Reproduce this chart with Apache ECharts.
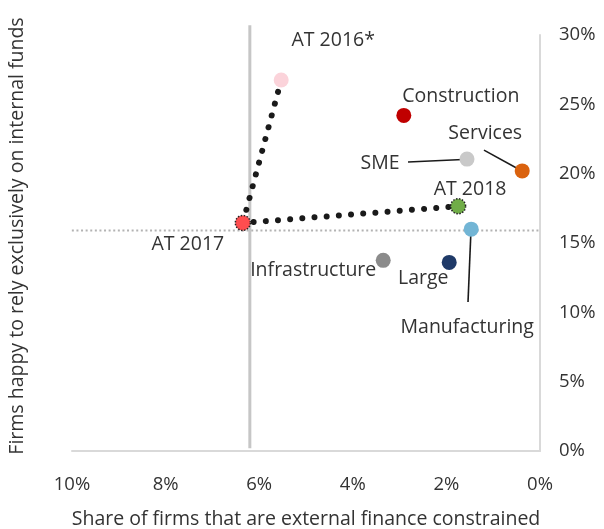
<!DOCTYPE html>
<html>
<head>
<meta charset="utf-8">
<script src="https://cdn.jsdelivr.net/npm/echarts@6/dist/echarts.min.js"></script>
<style>
html,body{margin:0;padding:0;background:#fff;}
#chart{width:604px;height:529px;}
</style>
</head>
<body>
<div id="chart"></div>
<script>
// ---- data ----
const pointNames = ['AT 2016*', 'Construction', 'Services', 'SME', 'AT 2018', 'Manufacturing', 'Large', 'Infrastructure', 'AT 2017'];
const constrained = [5.53, 2.91, 0.38, 1.56, 1.75, 1.47, 1.94, 3.35, 6.35];   // x, %
const internalOnly = [26.75, 24.2, 20.2, 21.05, 17.65, 16.0, 13.6, 13.75, 16.45]; // y, %
const trendNames = ['AT 2016*', 'AT 2017', 'AT 2018'];
const avgConstrained = 6.2;
const avgInternal = 15.9;
const xTicks = [0, 2, 4, 6, 8, 10];
const yTicks = [0, 5, 10, 15, 20, 25, 30];

// ---- styles / layout ----
const pointColors = {
  'AT 2016*': '#fbd3da', 'Construction': '#c00000', 'Services': '#da620e', 'SME': '#c9c9c9',
  'AT 2018': '#70ad47', 'Manufacturing': '#72b5d5', 'Large': '#1f3a68', 'Infrastructure': '#8b8b8b', 'AT 2017': '#ff4d4f'
};
const dottedBorder = {'AT 2018': true, 'AT 2017': true};
const labelOffsets = {
  'AT 2016*': [52, -40], 'Construction': [57, -19], 'Services': [-37, -37], 'SME': [-87, 4],
  'AT 2018': [12, -17], 'Manufacturing': [-4, 98], 'Large': [-26, 16], 'Infrastructure': [-70, 10], 'AT 2017': [-55, 22]
};
// leader lines (label end -> point), in axis units
const leaders = [
  [[2.82, 20.84], [1.645, 21.02]],
  [[1.197, 21.70], [0.385, 20.19]],
  [[1.474, 16.0], [1.538, 10.74]]
];

const FONT = 'Open Sans';
const TXT = '#333333';
const LBL = 19.5;
const TICK = 18.5;

const idx = n => pointNames.indexOf(n);
const scatterData = pointNames.map((n, i) => ({
  name: n,
  value: [constrained[i], internalOnly[i]],
  itemStyle: {
    color: pointColors[n], opacity: 1,
    borderColor: dottedBorder[n] ? '#222' : pointColors[n],
    borderWidth: dottedBorder[n] ? 1.5 : 0,
    borderType: dottedBorder[n] ? [1.5, 1.5] : 'solid'
  },
  label: {
    show: true, formatter: n, position: 'inside', offset: labelOffsets[n],
    align: 'center', verticalAlign: 'middle',
    color: TXT, fontFamily: FONT, fontSize: LBL
  }
}));

const trendData = trendNames.map(n => [constrained[idx(n)], internalOnly[idx(n)]]);

const series = [
  {
    type: 'line', data: [[avgConstrained, 0.2], [avgConstrained, 30.7]], clip: false,
    symbol: 'none', silent: true, z: 1,
    lineStyle: {color: '#c6c6c6', width: 3}
  },
  {
    type: 'line', data: [[10.2, avgInternal], [0.02, avgInternal]], clip: false,
    symbol: 'none', silent: true, z: 1,
    lineStyle: {color: '#b3b3b3', width: 2, type: [2, 2.6]}
  },
  {
    type: 'line', data: trendData, symbol: 'none', z: 2, silent: true,
    lineStyle: {color: '#1a1a1a', width: 6, type: [0.01, 12.2], cap: 'round'}
  }
];
leaders.forEach(l => series.push({
  type: 'line', data: l, symbol: 'none', z: 3, silent: true,
  lineStyle: {color: '#1a1a1a', width: 1.6}
}));
series.push({
  type: 'scatter', data: scatterData, symbolSize: 15, z: 5
});

const chart = echarts.init(document.getElementById('chart'), null, {renderer: 'canvas'});
chart.setOption({
  animation: false,
  backgroundColor: '#fff',
  grid: {left: 72, right: 64, top: 35, bottom: 78, containLabel: false, outerBoundsMode: 'none'},
  xAxis: {
    type: 'value', inverse: true, min: 0, max: 10, interval: 2,
    name: 'Share of firms that are external finance constrained',
    nameLocation: 'middle', nameGap: 58,
    nameTextStyle: {color: TXT, fontFamily: FONT, fontSize: LBL},
    axisLine: {show: true, lineStyle: {color: '#d9d9d9', width: 2}},
    axisTick: {show: false}, splitLine: {show: false},
    axisLabel: {color: TXT, fontFamily: FONT, fontSize: TICK, margin: 24,
      formatter: v => xTicks.includes(v) ? v + '%' : ''}
  },
  yAxis: {
    type: 'value', position: 'right', min: 0, max: 30, interval: 5,
    axisLine: {show: true, lineStyle: {color: '#d9d9d9', width: 2}},
    axisTick: {show: false}, splitLine: {show: false},
    axisLabel: {color: TXT, fontFamily: FONT, fontSize: TICK, margin: 19,
      formatter: v => yTicks.includes(v) ? v + '%' : ''}
  },
  graphic: [{
    type: 'text', x: 17, y: 236, rotation: Math.PI / 2,
    style: {text: 'Firms happy to rely exclusively on internal funds', fill: TXT,
      font: LBL + 'px "Open Sans"', textAlign: 'center', textVerticalAlign: 'middle'}
  }],
  series: series
});
</script>
</body>
</html>
